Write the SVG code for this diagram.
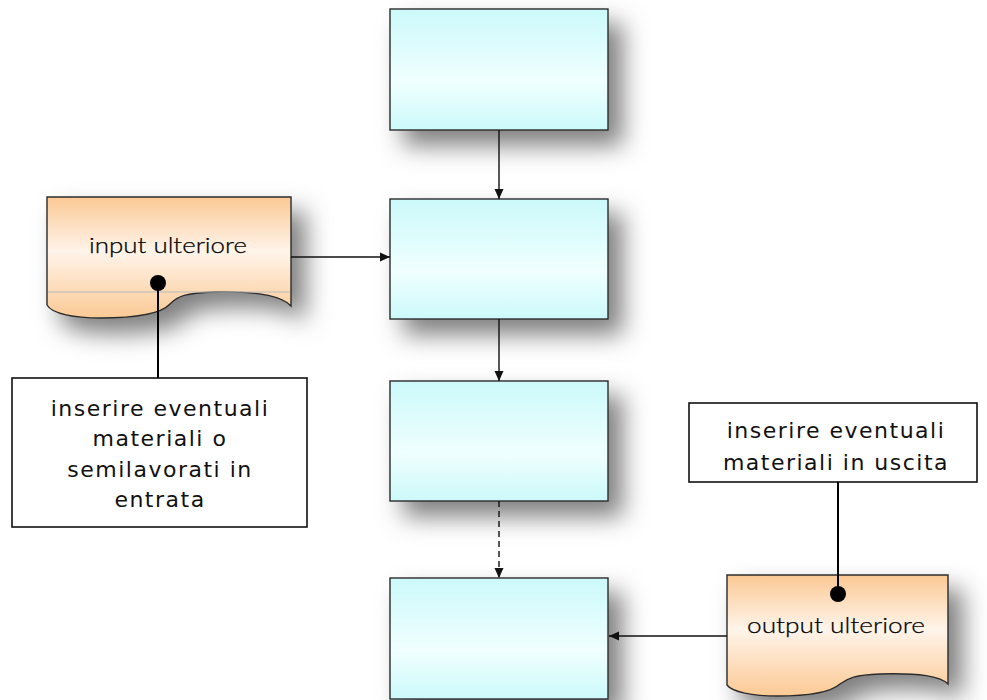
<svg xmlns="http://www.w3.org/2000/svg" width="987" height="700" viewBox="0 0 987 700">
  <defs>
    <linearGradient id="gCyan" x1="0" y1="0" x2="0" y2="1">
      <stop offset="0" stop-color="#CCF9FA"/>
      <stop offset="0.6" stop-color="#F0FFFF"/>
      <stop offset="1" stop-color="#CCF9FA"/>
    </linearGradient>
    <linearGradient id="gPeach" x1="0" y1="0" x2="0" y2="1">
      <stop offset="0" stop-color="#FBC994"/>
      <stop offset="0.45" stop-color="#FFF4EA"/>
      <stop offset="1" stop-color="#FBC994"/>
    </linearGradient>
    <filter id="shadow" x="-25%" y="-25%" width="170%" height="180%">
      <feDropShadow dx="14" dy="15" stdDeviation="12" flood-color="#000" flood-opacity="0.5"/>
    </filter>
    <marker id="arrow" viewBox="0 0 10 10" refX="10" refY="5" markerWidth="10" markerHeight="10" markerUnits="userSpaceOnUse" orient="auto">
      <path d="M0,0.5 L10,5 L0,9.5 Z" fill="#111"/>
    </marker>
  </defs>
  <style>
    .step { fill: url(#gCyan); stroke: #2b2b2b; stroke-width: 1.4; filter: url(#shadow); }
    .doc { fill: url(#gPeach); stroke: #2b2b2b; stroke-width: 1.4; filter: url(#shadow); }
    .note { fill: #fff; stroke: #111; stroke-width: 1.6; }
    .conn { stroke: #111; stroke-width: 1.4; fill: none; }
    .lead { stroke: #000; stroke-width: 2; fill: none; }
    .docText { font-family: "Lato", "Liberation Sans", sans-serif; font-weight: 300; font-size: 22px; fill: #000; stroke: #000; stroke-width: 0.25; text-anchor: middle; }
    .noteText { font-family: "DejaVu Sans", sans-serif; font-size: 22px; letter-spacing: 1.5px; fill: #111; text-anchor: middle; }
  </style>

  <rect width="987" height="700" fill="#fff"/>

  <!-- process steps -->
  <g id="step1"><rect class="step" x="390" y="9" width="218" height="121"/></g>
  <g id="step2"><rect class="step" x="390" y="199" width="218" height="120"/></g>
  <g id="step3"><rect class="step" x="390" y="381" width="218" height="120"/></g>
  <g id="step4"><rect class="step" x="390" y="578" width="218" height="121"/></g>

  <!-- documents -->
  <g id="input-doc">
    <path class="doc" d="M47,197 H291 V306 C282,296 258,291 215,292 C185,293 178,296 170,304 C160,315 130,318 100,318 C75,318 52,314 47,305 Z"/>
    <line x1="48" y1="292" x2="290" y2="292" stroke="#b9b9b9" stroke-width="1"/>
    <text class="docText" x="168" y="253" textLength="158" lengthAdjust="spacingAndGlyphs">input ulteriore</text>
  </g>
  <g id="output-doc">
    <path class="doc" d="M727,575 H948 V684 C940,676 920,673 880,674 C855,675 848,678 840,684 C830,693 805,696 777,696 C753,696 732,692 727,685 Z"/>
    <text class="docText" x="836" y="633" textLength="178" lengthAdjust="spacingAndGlyphs">output ulteriore</text>
  </g>

  <!-- notes -->
  <g id="note-input">
    <rect class="note" x="12" y="378" width="295" height="149"/>
    <text class="noteText" x="160" y="416">inserire eventuali</text>
    <text class="noteText" x="160" y="446">materiali o</text>
    <text class="noteText" x="160" y="477">semilavorati in</text>
    <text class="noteText" x="160" y="507">entrata</text>
  </g>
  <g id="note-output">
    <rect class="note" x="689" y="403" width="288" height="79"/>
    <text class="noteText" x="836" y="438">inserire eventuali</text>
    <text class="noteText" x="836" y="470">materiali in uscita</text>
  </g>

  <!-- connectors -->
  <g id="connectors">
    <line class="conn" x1="499" y1="130" x2="499" y2="199" marker-end="url(#arrow)"/>
    <line class="conn" x1="499" y1="319" x2="499" y2="381" marker-end="url(#arrow)"/>
    <line class="conn" x1="499" y1="501" x2="499" y2="578" stroke-dasharray="6,4" marker-end="url(#arrow)"/>
    <line class="conn" x1="291" y1="257" x2="390" y2="257" marker-end="url(#arrow)"/>
    <line class="conn" x1="727" y1="636" x2="609" y2="636" marker-end="url(#arrow)"/>
    <line class="lead" x1="158" y1="283" x2="158" y2="378"/>
    <circle cx="158" cy="283" r="8" fill="#000"/>
    <line class="lead" x1="838" y1="482" x2="838" y2="594"/>
    <circle cx="838" cy="594" r="8" fill="#000"/>
  </g>
</svg>
